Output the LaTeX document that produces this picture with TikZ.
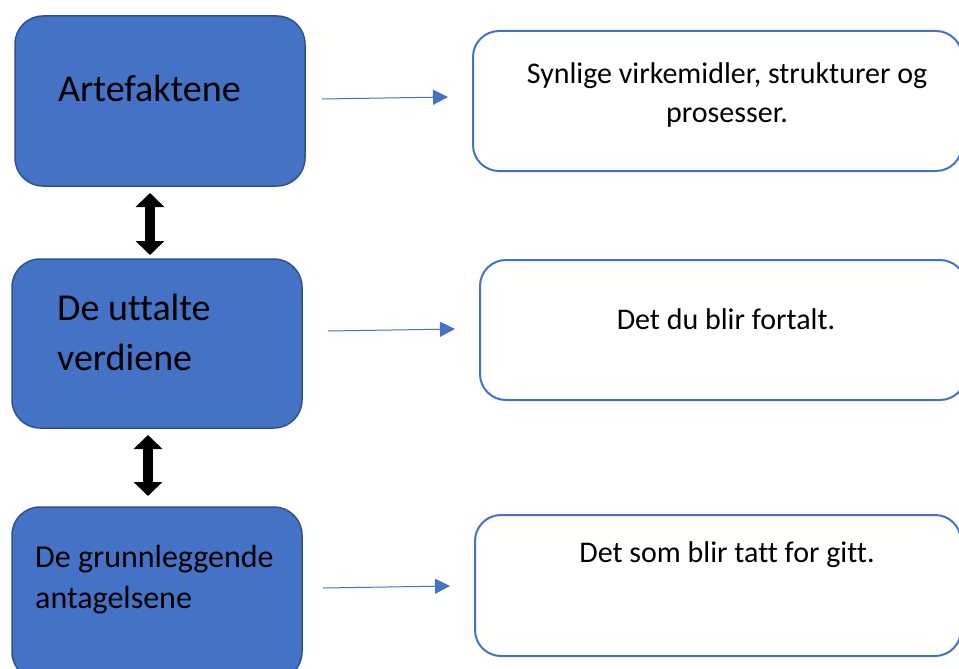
\documentclass[tikz,border=0pt]{standalone}
\usepackage{fontspec}
\setmainfont{Carlito}[Ligatures={NoCommon}]
\usetikzlibrary{arrows.meta}
\definecolor{boxblue}{HTML}{4472C4}
\definecolor{boxedge}{HTML}{2F528F}
\tikzset{
  leftbox/.style={fill=boxblue, draw=boxedge, line width=1.5pt, rounded corners=28pt},
  rightbox/.style={draw=boxblue, line width=2pt, rounded corners=26pt, fill=white},
  bigtxt/.style={font=\fontsize{38}{50}\selectfont, inner sep=0pt, align=left},
  midtxt/.style={font=\fontsize{32}{41}\selectfont, inner sep=0pt, align=left},
  righttxt/.style={font=\fontsize{30}{39}\selectfont, inner sep=0pt, align=center},
  bluearrow/.style={draw=boxblue, line width=1pt, -{Triangle[length=15pt,width=15pt]}},
  blockarrow/.style={line width=10pt, {Triangle[length=14pt,width=28pt]}-{Triangle[length=14pt,width=28pt]}}
}
\begin{document}
\begin{tikzpicture}[x=1pt,y=-1pt]
\useasboundingbox (0,0) rectangle (959,669);
% left boxes
\path[leftbox] (15,16) rectangle (305,186);
\coordinate (b1s) at (150,193);
\path[leftbox] (12,259) rectangle (302,428);
\coordinate (b2n) at (150,255);
\coordinate (b2s) at (148,435);
\path[leftbox] (12,507) rectangle (302,680);
\coordinate (b3n) at (148,496);
% right boxes
\path[rightbox] (473,31) rectangle (962,171);
\path[rightbox] (480,260) rectangle (966,400);
\path[rightbox] (475,515) rectangle (961,656);
% texts (multi-line nodes: base anchor = last line)
\node[bigtxt, anchor=base west] (t1) at (58,102) {Artefaktene};
\node[bigtxt, anchor=base west] (t2) at (57,370) {De uttalte\\verdiene};
\node[midtxt, anchor=base west] (t3) at (35,608) {De grunnleggende\\antagelsene};
\node[righttxt, anchor=base] (r1) at (727,122) {Synlige virkemidler, strukturer og\\prosesser.};
\node[righttxt, anchor=base] (r2) at (726,329) {Det du blir fortalt.};
\node[righttxt, anchor=base] (r3) at (727,562) {Det som blir tatt for gitt.};
% blue arrows
\coordinate (a1s) at (322,99); \coordinate (a1e) at (448,97);
\coordinate (a2s) at (328,331); \coordinate (a2e) at (455,329);
\coordinate (a3s) at (323,588); \coordinate (a3e) at (450,586);
\draw[bluearrow] (a1s) -- (a1e);
\draw[bluearrow] (a2s) -- (a2e);
\draw[bluearrow] (a3s) -- (a3e);
% black double arrows
\draw[blockarrow] (b1s) -- (b2n);
\draw[blockarrow] (b2s) -- (b3n);
\end{tikzpicture}
\end{document}
